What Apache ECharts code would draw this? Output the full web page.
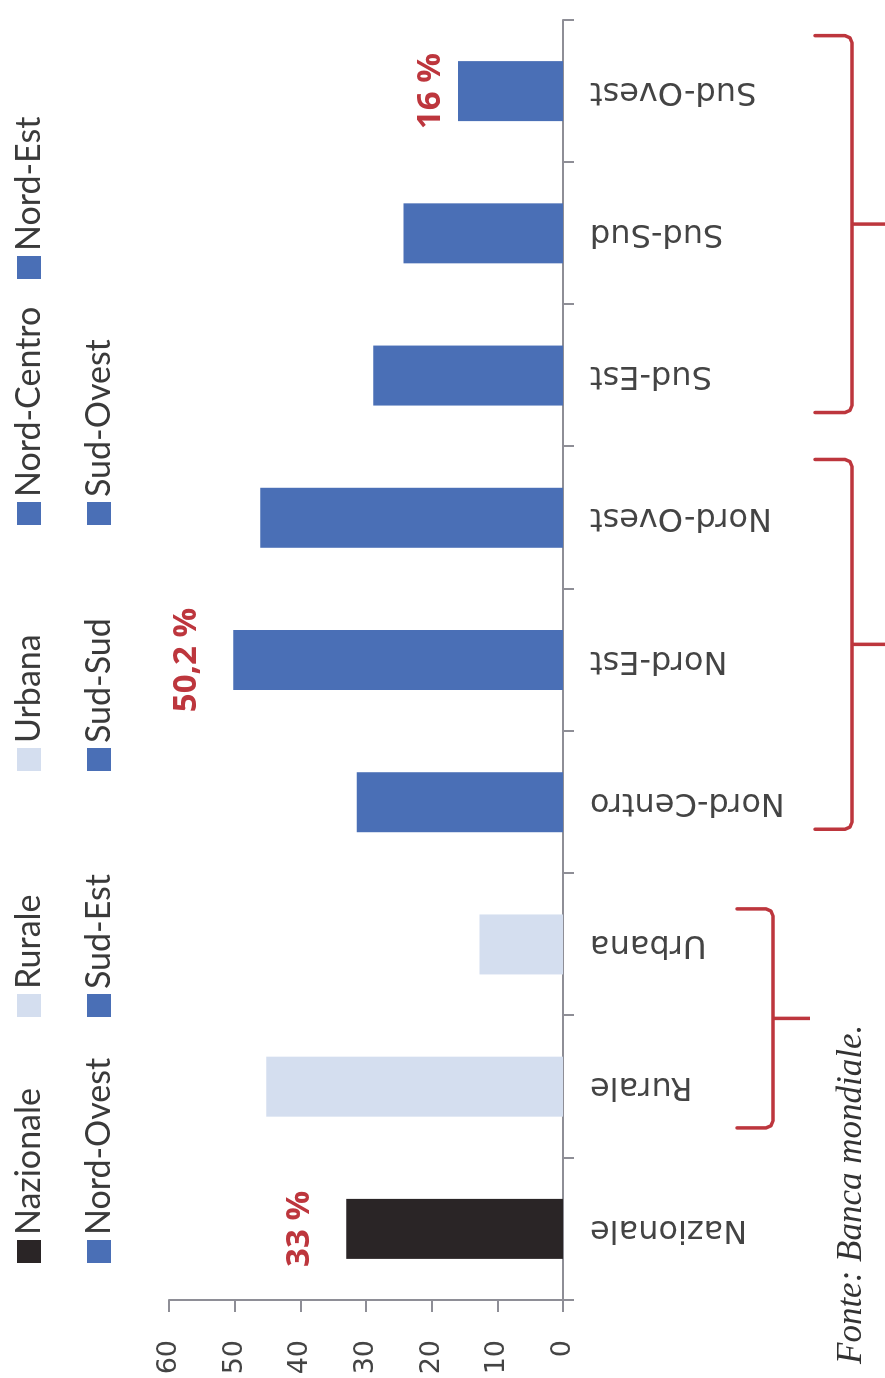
<!DOCTYPE html>
<html>
<head>
<meta charset="utf-8">
<script src="https://cdn.jsdelivr.net/npm/echarts@6/dist/echarts.min.js"></script>
<style>
  html, body { margin: 0; padding: 0; width: 885px; height: 1378px; overflow: hidden; background: #ffffff; }
  /* The chart is laid out landscape and turned a quarter turn counter-clockwise onto the portrait page */
  #chart {
    position: absolute; left: 0; top: 0;
    width: 1378px; height: 885px;
    transform-origin: 0 0;
    transform: translate(0, 1378px) rotate(-90deg);
  }
</style>
</head>
<body>
<div id="chart"></div>
<script>
// Poverty rate (%) by area and region
const categories = ['Nazionale', 'Rurale', 'Urbana', 'Nord-Centro', 'Nord-Est', 'Nord-Ovest', 'Sud-Est', 'Sud-Sud', 'Sud-Ovest'];
const values = [33, 45.2, 12.7, 31.4, 50.2, 46.1, 28.9, 24.3, 16];
const barColors = ['#2a2526', '#d4deef', '#d4deef', '#4a6fb6', '#4a6fb6', '#4a6fb6', '#4a6fb6', '#4a6fb6', '#4a6fb6'];
const labelledCategories = ['Nazionale', 'Nord-Est', 'Sud-Ovest'];
const axisMin = 0, axisMax = 60, axisStep = 10;
const sourceNote = 'Fonte: Banca mondiale.';

// Gap between a bar end and its value label
const labelGap = { 'Nazionale': 30, 'Nord-Est': 30, 'Sud-Ovest': 11 };

// Red braces grouping the area and regional bars
const braces = [
  { from: 'Rurale', to: 'Urbana', padStart: 0.29, padEnd: 0.25, line: 773, hook: 36, stub: 37 },
  { from: 'Nord-Centro', to: 'Nord-Ovest', padStart: 0.19, padEnd: 0.41, line: 852, hook: 37, stub: 45 },
  { from: 'Sud-Est', to: 'Sud-Ovest', padStart: 0.26, padEnd: 0.39, line: 852, hook: 37, stub: 45 }
];

const textDark = '#3a3a3a';
const axisGrey = '#8e8e96';
const redNote = '#bd363d';

const chart = echarts.init(document.getElementById('chart'), null, { renderer: 'canvas' });

const series = categories.map((name, i) => ({
  name: name,
  type: 'bar',
  stack: 'all',
  barWidth: 60,
  itemStyle: { color: barColors[i] },
  label: {
    show: labelledCategories.includes(name),
    position: 'top',
    distance: labelGap[name] || 30,
    color: redNote,
    fontFamily: 'Open Sans',
    fontWeight: 'bold',
    fontSize: 33,
    formatter: p => String(p.value).replace('.', ',') + ' %'
  },
  data: categories.map((c, j) => (j === i ? values[i] : '-'))
}));

const legends = categories.map((name, i) => ({
  data: [name],
  left: 115 + (i % 5) * 246,
  top: i < 5 ? 12 : 82,
  padding: 0,
  icon: 'rect',
  itemWidth: 23,
  itemHeight: 24,
  selectedMode: false,
  textStyle: { fontFamily: 'Lato', fontSize: 34, color: textDark }
}));

chart.setOption({
  animation: false,
  backgroundColor: '#ffffff',
  legend: legends,
  grid: { left: 78, right: 20, top: 169, bottom: 322, containLabel: false, outerBoundsMode: 'none' },
  xAxis: {
    type: 'category',
    data: categories,
    axisLine: { show: true, lineStyle: { color: axisGrey, width: 2 } },
    axisTick: { show: true, alignWithLabel: false, interval: 0, length: 11, lineStyle: { color: axisGrey, width: 2 } },
    axisLabel: {
      rotate: 90,
      margin: 27,
      interval: 0,
      fontFamily: 'DejaVu Sans',
      fontSize: 32,
      color: '#444444'
    },
    splitLine: { show: false }
  },
  yAxis: {
    type: 'value',
    min: axisMin,
    max: axisMax,
    interval: axisStep,
    axisLine: { show: true, lineStyle: { color: axisGrey, width: 2 } },
    axisTick: { show: true, length: 12, lineStyle: { color: axisGrey, width: 2 } },
    axisLabel: { margin: 40, fontFamily: 'DejaVu Sans', fontSize: 27, color: '#444444' },
    splitLine: { show: false }
  },
  series: series
});

// Braces and source note placed from the category axis scale
const centre = name => chart.convertToPixel({ xAxisIndex: 0 }, name);
const band = centre(categories[1]) - centre(categories[0]);
const r = 7;
const braceElements = [];
braces.forEach(b => {
  const u0 = centre(b.from) - b.padStart * band;
  const u1 = centre(b.to) + b.padEnd * band;
  const mid = (u0 + u1) / 2;
  const L = b.line;
  braceElements.push({
    type: 'polyline',
    shape: {
      points: [
        [u0, L - b.hook], [u0, L - r], [u0 + r * 0.3, L - r * 0.3], [u0 + r, L],
        [u1 - r, L], [u1 - r * 0.3, L - r * 0.3], [u1, L - r], [u1, L - b.hook]
      ]
    },
    style: { fill: null, stroke: redNote, lineWidth: 3.5, lineJoin: 'round', lineCap: 'round' },
    silent: true
  });
  braceElements.push({
    type: 'line',
    shape: { x1: mid, y1: L, x2: mid, y2: L + b.stub },
    style: { stroke: redNote, lineWidth: 3.5 },
    silent: true
  });
});

chart.setOption({
  graphic: braceElements.concat([{
    type: 'text',
    left: 14,
    top: 834,
    style: {
      text: sourceNote,
      fontFamily: 'Liberation Serif',
      fontStyle: 'italic',
      fontSize: 35,
      fill: '#333333'
    },
    silent: true
  }])
});
</script>
</body>
</html>
